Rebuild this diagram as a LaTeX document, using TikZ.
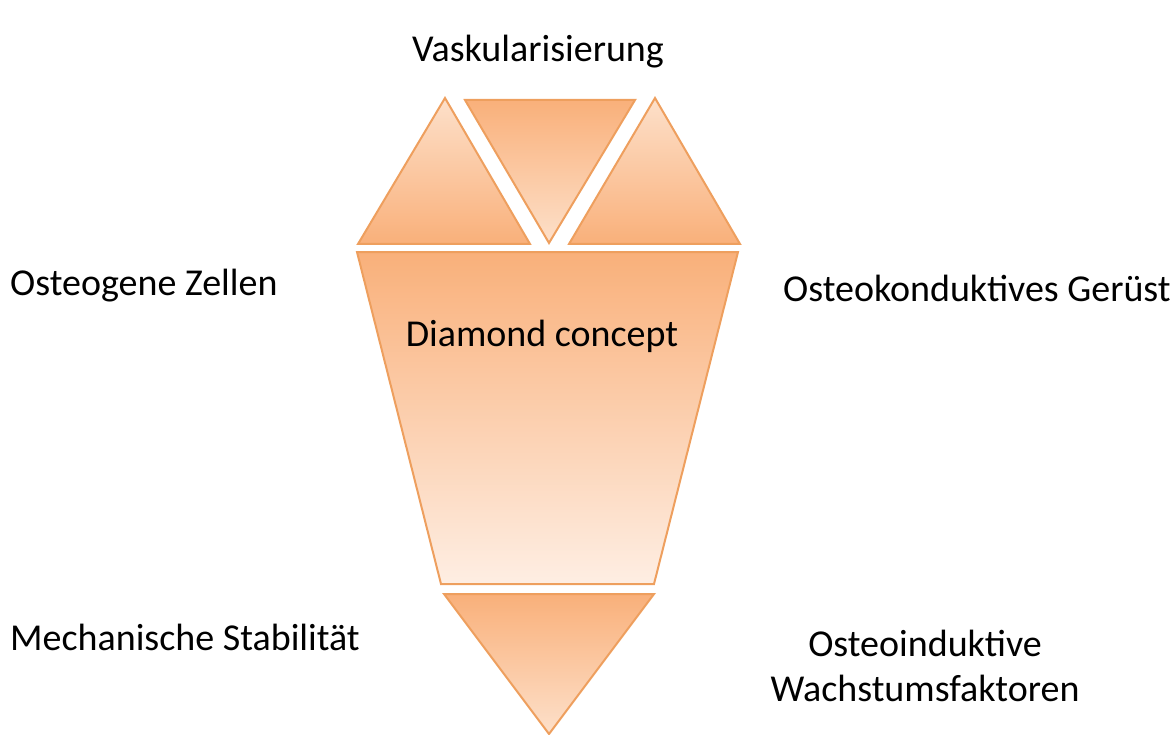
\documentclass[tikz,border=0pt]{standalone}
\usepackage{fontspec}
\setmainfont{Carlito}

\definecolor{facetdark}{HTML}{F9B07A}
\definecolor{facetlight}{HTML}{FDE0CA}
\definecolor{facetpale}{HTML}{FEEEE3}
\definecolor{facetline}{HTML}{EE9F5E}

\begin{document}
\begin{tikzpicture}
[
	x=1pt,y=-1pt,
	facet/.style={draw=facetline,line width=2pt,line join=miter,top color=facetdark,bottom color=facetlight},
	upfacet/.style={facet,top color=facetlight,bottom color=facetdark},
	label/.style={font=\fontsize{38}{46}\selectfont,text=black,inner sep=0pt},
	sidelabel/.style={label,anchor=west}
]

	\useasboundingbox (0,0) rectangle (1174,735);

	% upper facets
	\draw[upfacet] (358,244) -- (445,98) -- (530,244) -- cycle;
	\draw[facet] (465,100) -- (635,100) -- (549,243) -- cycle;
	\draw[upfacet] (569,244) -- (655,98) -- (740,244) -- cycle;

	% table
	\draw[facet,bottom color=facetpale] (357,252) -- (738,252) -- (654,584) -- (441,584) -- cycle;

	% lower facet
	\draw[facet] (444,594) -- (654,594) -- (549,734) -- cycle;

	% labels
	\node[label] (vask) at (538,52) {Vaskularisierung};
	\node[label] (diamond) at (542,336) {Diamond concept};
	\node[sidelabel] (zellen) at (10,286) {Osteogene Zellen};
	\node[sidelabel] (geruest) at (783,288) {Osteokonduktives Gerüst};
	\node[sidelabel] (stabil) at (10,637) {Mechanische Stabilität};
	\node[label,align=center,font=\fontsize{38}{45}\selectfont] (faktoren) at (925,666) {Osteoinduktive\\Wachstumsfaktoren};

\end{tikzpicture}
\end{document}
